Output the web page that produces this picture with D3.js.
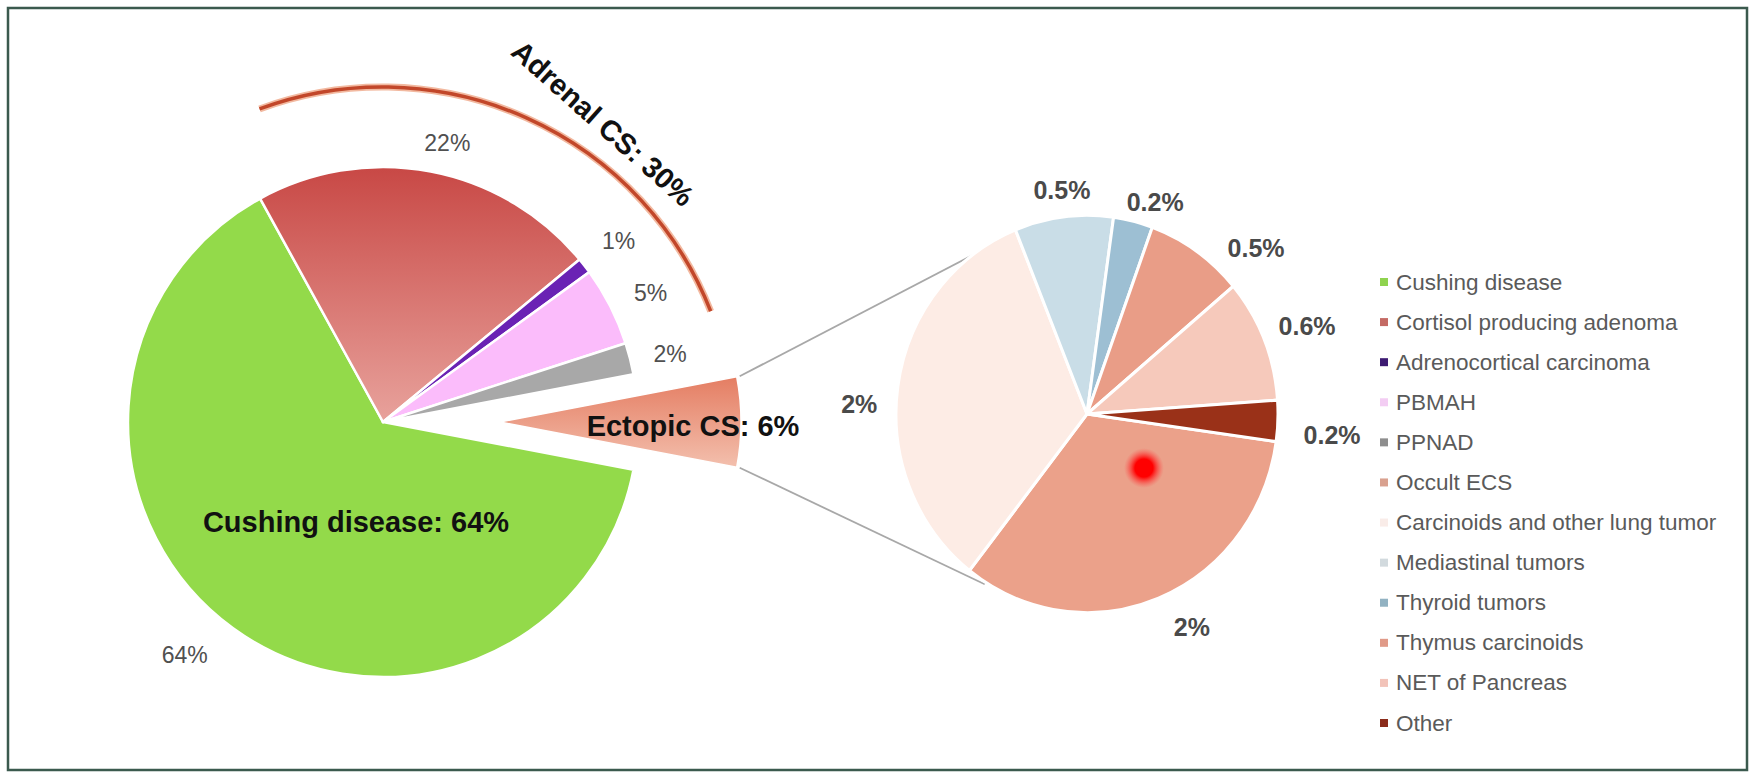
<!DOCTYPE html>
<html><head><meta charset="utf-8">
<script src="https://cdn.jsdelivr.net/npm/d3@7"></script>
<style>
html,body{margin:0;padding:0;background:#fff;}
svg{display:block;font-family:"Liberation Sans",Arial,sans-serif;}
</style>
</head><body>
<svg id="chart" width="1755" height="777"></svg>
<script>
// ---------------- data ----------------
const mainCategories = ["Cushing disease","Cortisol producing adenoma","Adrenocortical carcinoma","PBMAH","PPNAD","Ectopic CS"];
const mainValues = [64, 22, 1, 5, 2, 6];
const mainLabels = ["64%","22%","1%","5%","2%",""];

const ectopicCategories = ["Occult ECS","Carcinoids and other lung tumor","Mediastinal tumors","Thyroid tumors","Thymus carcinoids","NET of Pancreas","Other"];
const ectopicValues = [2, 2, 0.5, 0.2, 0.5, 0.6, 0.2];
const ectopicLabels = ["2%","2%","0.5%","0.2%","0.5%","0.6%","0.2%"];

const legendCategories = mainCategories.slice(0,5).concat(ectopicCategories);

const groupTitles = {cushing: "Cushing disease: 64%", adrenal: "Adrenal CS: 30%", ectopic: "Ectopic CS: 6%"};

// ---------------- styles ----------------
const colors = {
  "Cushing disease": "#93da4a",
  "Cortisol producing adenoma": "url(#gradCortisol)",
  "Adrenocortical carcinoma": "#6a22b4",
  "PBMAH": "#fbbcfb",
  "PPNAD": "#a8a8a8",
  "Ectopic CS": "url(#gradEctopic)",
  "Occult ECS": "#eba18a",
  "Carcinoids and other lung tumor": "#fdece5",
  "Mediastinal tumors": "#c9dde7",
  "Thyroid tumors": "#9dbfd3",
  "Thymus carcinoids": "#e99d87",
  "NET of Pancreas": "#f6c9bb",
  "Other": "#9a3118"
};
const legendColors = {
  "Cushing disease": "#8fd34f",
  "Cortisol producing adenoma": "#c46a64",
  "Adrenocortical carcinoma": "#3d1b72",
  "PBMAH": "#f3cdf3",
  "PPNAD": "#8e8e8e",
  "Occult ECS": "#d9a18f",
  "Carcinoids and other lung tumor": "#f9ece8",
  "Mediastinal tumors": "#d2dade",
  "Thyroid tumors": "#92b2c2",
  "Thymus carcinoids": "#e09a88",
  "NET of Pancreas": "#f2c3b9",
  "Other": "#8b2c1b"
};

const W = 1755, H = 777;
const rad = d => d * Math.PI / 180;
const polar = (c, angDeg, r, sy) => [c[0] + r * Math.sin(rad(angDeg)), c[1] - (sy||1) * r * Math.cos(rad(angDeg))];

const mainC = [383, 422], mainR = 255;
const ectC = [1087, 414], ectR = 191, ectSY = 1.04;
const mainStart = 100.8, ectStart = 98;
const explode = 117, explodedR = 241;

// label layout: [angle nudge (deg), radius nudge (px)]
const mainLabelR = 296;
const mainNudge = {"Cushing disease":[4.4,10],"Cortisol producing adenoma":[2.2,-10],"Adrenocortical carcinoma":[0.3,1],"PBMAH":[1.3,1],"PPNAD":[1.1,-1]};
const ectLabelR = 235;
const ectNudge = {"Occult ECS":[-4.2,2.5],"Carcinoids and other lung tumor":[-5.5,-7],"Mediastinal tumors":[0.6,-10],"Thyroid tumors":[3.8,-12],"Thymus carcinoids":[10.5,2],"NET of Pancreas":[0.2,2],"Other":[2.9,11]};

// ---------------- drawing ----------------
const svg = d3.select("#chart");
const defs = svg.append("defs");

const g1 = defs.append("linearGradient").attr("id","gradCortisol").attr("gradientUnits","userSpaceOnUse")
  .attr("x1",0).attr("x2",0).attr("y1",-mainR).attr("y2",0);
g1.append("stop").attr("offset","0%").attr("stop-color","#c84845");
g1.append("stop").attr("offset","100%").attr("stop-color","#e8a29c");

const g2 = defs.append("linearGradient").attr("id","gradEctopic").attr("gradientUnits","userSpaceOnUse")
  .attr("x1",0).attr("x2",0).attr("y1",-48).attr("y2",46);
g2.append("stop").attr("offset","0%").attr("stop-color","#e47b60");
g2.append("stop").attr("offset","100%").attr("stop-color","#f3c0ae");

const rg = defs.append("radialGradient").attr("id","gradDot");
rg.append("stop").attr("offset","0%").attr("stop-color","#ff0000").attr("stop-opacity",1);
rg.append("stop").attr("offset","45%").attr("stop-color","#ff0000").attr("stop-opacity",1);
rg.append("stop").attr("offset","100%").attr("stop-color","#ff5050").attr("stop-opacity",0);

// frame
svg.append("rect").attr("x",8).attr("y",8).attr("width",W-16).attr("height",H-15)
  .attr("fill","#fff").attr("stroke","#3b5a4e").attr("stroke-width",2.5);

// ----- main pie -----
const mainData = mainCategories.map((c,i)=>({name:c, value:mainValues[i], label:mainLabels[i]}));
const pieMain = d3.pie().sort(null).value(d=>d.value)
  .startAngle(rad(mainStart)).endAngle(rad(mainStart+360));
const arcsMain = pieMain(mainData);
const arcMain = d3.arc().innerRadius(0).outerRadius(mainR);
const arcExploded = d3.arc().innerRadius(0).outerRadius(explodedR);

const gMain = svg.append("g").attr("transform",`translate(${mainC[0]},${mainC[1]})`);
let ectApex = null, ectArc = null;
arcsMain.forEach(a => {
  if (a.data.name === "Ectopic CS") {
    const mid = (a.startAngle + a.endAngle)/2;
    const dx = explode*Math.sin(mid), dy = -explode*Math.cos(mid);
    ectApex = [mainC[0]+dx, mainC[1]+dy]; ectArc = a;
    svg.append("path").attr("transform",`translate(${ectApex[0]},${ectApex[1]})`)
      .attr("d", arcExploded(a)).attr("fill", colors[a.data.name])
      .attr("stroke","#fff").attr("stroke-width",1.5);
  } else {
    gMain.append("path").attr("d", arcMain(a)).attr("fill", colors[a.data.name])
      .attr("stroke","#fff").attr("stroke-width",2.5).attr("stroke-linejoin","round");
  }
});

// main percent labels
arcsMain.filter(a=>a.data.label).forEach(a=>{
  const n = mainNudge[a.data.name] || [0,0];
  const mid = (a.startAngle+a.endAngle)/2*180/Math.PI + n[0];
  const p = polar(mainC, mid, mainLabelR + n[1]);
  svg.append("text").attr("x",p[0]).attr("y",p[1]).attr("text-anchor","middle")
    .attr("dominant-baseline","central").attr("font-size",23).attr("fill","#505050")
    .text(a.data.label);
});

// Cushing disease title
svg.append("text").attr("x",mainC[0]-27).attr("y",mainC[1]+100)
  .attr("text-anchor","middle").attr("dominant-baseline","central")
  .attr("font-size",29).attr("font-weight","bold").attr("fill","#111")
  .text(groupTitles.cushing);

// Adrenal arc bracket
(function(){
  const adrenal = arcsMain.slice(1,5);
  const a0 = adrenal[0].startAngle*180/Math.PI - 360 + 8.5;
  const a1 = adrenal[adrenal.length-1].endAngle*180/Math.PI - 360 - 10.6;
  const arcC = [mainC[0]-1, mainC[1]+18], arcR = 353;
  const bracket = d3.arc().innerRadius(arcR).outerRadius(arcR).startAngle(rad(a0)).endAngle(rad(a1));
  const gA = svg.append("g").attr("transform",`translate(${arcC[0]},${arcC[1]})`);
  gA.append("path").attr("d", bracket()).attr("fill","none").attr("stroke","#f2b9a0").attr("stroke-width",7).attr("stroke-linecap","round");
  gA.append("path").attr("d", bracket()).attr("fill","none").attr("stroke","#c2472a").attr("stroke-width",3.5).attr("stroke-linecap","round");
  const tp = polar(arcC, 34.9, 386);
  svg.append("text").attr("transform",`translate(${tp[0]},${tp[1]}) rotate(41.7)`)
    .attr("text-anchor","middle").attr("dominant-baseline","central")
    .attr("font-size",29).attr("font-weight","bold").attr("fill","#111")
    .text(groupTitles.adrenal);
})();

// ----- connectors -----
(function(){
  const s = ectArc.startAngle*180/Math.PI, e = ectArc.endAngle*180/Math.PI;
  const p0 = polar(ectApex, s, explodedR+3), p1 = polar(ectApex, e, explodedR+3);
  const q0 = polar(ectC, 327, ectR-2, ectSY), q1 = polar(ectC, 212, ectR+2, ectSY);
  [[p0,q0],[p1,q1]].forEach(([a,b])=>{
    svg.append("line").attr("x1",a[0]).attr("y1",a[1]).attr("x2",b[0]).attr("y2",b[1])
      .attr("stroke","#a8a8a8").attr("stroke-width",1.8);
  });
})();

// Ectopic label
svg.append("text").attr("x",ectApex[0]+193).attr("y",ectApex[1]+4)
  .attr("text-anchor","middle").attr("dominant-baseline","central")
  .attr("font-size",29).attr("font-weight","bold").attr("fill","#111")
  .text(groupTitles.ectopic);

// ----- secondary pie -----
const ectData = ectopicCategories.map((c,i)=>({name:c, value:ectopicValues[i], label:ectopicLabels[i]}));
const pieEct = d3.pie().sort(null).value(d=>d.value)
  .startAngle(rad(ectStart)).endAngle(rad(ectStart+360));
const arcsEct = pieEct(ectData);
const arcEct = d3.arc().innerRadius(0).outerRadius(ectR);
const gE = svg.append("g").attr("transform",`translate(${ectC[0]},${ectC[1]}) scale(1,${ectSY})`);
gE.selectAll("path").data(arcsEct).join("path")
  .attr("d", arcEct).attr("fill", d=>colors[d.data.name])
  .attr("stroke","#fff").attr("stroke-width",3).attr("stroke-linejoin","round");

arcsEct.forEach(a=>{
  const n = ectNudge[a.data.name] || [0,0];
  const mid = (a.startAngle+a.endAngle)/2*180/Math.PI + n[0];
  const p = polar(ectC, mid, ectLabelR + n[1]);
  svg.append("text").attr("x",p[0]).attr("y",p[1]).attr("text-anchor","middle")
    .attr("dominant-baseline","central").attr("font-size",25).attr("font-weight","bold")
    .attr("fill","#4a4a4a").text(a.data.label);
});

// pointer dot (as in the reference picture)
(function(){
  const p = polar(ectC, 133.5, 78.5);
  svg.append("circle").attr("cx",p[0]).attr("cy",p[1]).attr("r",20).attr("fill","url(#gradDot)");
})();

// ----- legend -----
const legendY = d3.scalePoint().domain(legendCategories).range([282, 723]);
const gL = svg.append("g");
legendCategories.forEach(c=>{
  const y = legendY(c);
  gL.append("rect").attr("x",1380).attr("y",y-4).attr("width",8).attr("height",8).attr("fill",legendColors[c]);
  gL.append("text").attr("x",1396).attr("y",y).attr("dominant-baseline","central")
    .attr("font-size",22.5).attr("fill","#5a5a5a").text(c);
});
</script>
</body></html>
